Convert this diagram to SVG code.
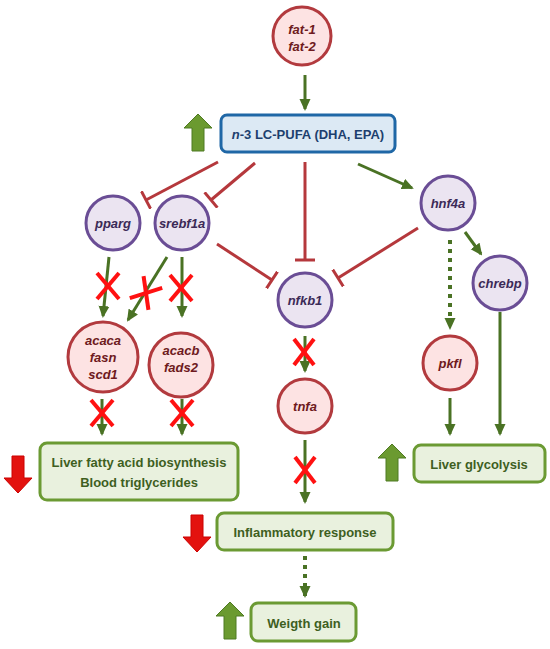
<svg xmlns="http://www.w3.org/2000/svg" width="550" height="649" viewBox="0 0 550 649">
<style>
text{font-family:"Liberation Sans",Arial,sans-serif;font-weight:bold;font-size:13px;text-anchor:middle;dominant-baseline:central}
.red circle{fill:#fde3e3;stroke:#b23a3e;stroke-width:3}
.red text{fill:#6e1a20;font-style:italic}
.pur circle{fill:#ebe4f1;stroke:#6a4d95;stroke-width:3}
.pur text{fill:#3b2a57;font-style:italic}
.box rect{fill:#e9f1de;stroke:#6b9a33;stroke-width:3}
.box text{fill:#3e5f1f}
.act{stroke:#4a7224;stroke-width:3;fill:none;marker-end:url(#ah)}
.dot{stroke:#4a7224;stroke-width:4;fill:none;stroke-dasharray:4 5;marker-end:url(#ah)}
.inh{stroke:#b5383c;stroke-width:3;fill:none;marker-end:url(#tb)}
.x line{stroke:#ff1111;stroke-width:4;stroke-linecap:butt}
.up{fill:#6b9a30;stroke:#4f7a22;stroke-width:1}
.down{fill:#e3120f;stroke:#c00;stroke-width:1}
</style>
<defs>
<marker id="ah" markerUnits="userSpaceOnUse" markerWidth="12" markerHeight="12" viewBox="0 0 12 12" refX="10" refY="6" orient="auto">
<path d="M0,0.5 L12,6 L0,11.5 Z" fill="#4a7224"/>
</marker>
<marker id="tb" markerUnits="userSpaceOnUse" markerWidth="4" markerHeight="20" viewBox="0 0 4 20" refX="2" refY="10" orient="auto">
<path d="M2,0 V20" stroke="#b5383c" stroke-width="3"/>
</marker>
<path id="upA" d="M14,0 L28,14 L20,14 L20,37 L8,37 L8,14 L0,14 Z"/>
<path id="dnA" d="M8,0 L20,0 L20,22 L28,22 L14,37 L0,22 L8,22 Z"/>
</defs>

<g id="connectors">
<line class="act" x1="305" y1="75" x2="305" y2="109"/>
<line class="act" x1="358" y1="164" x2="412" y2="188"/>
<line class="act" x1="465" y1="232" x2="481" y2="254"/>
<line class="dot" x1="450" y1="240" x2="450" y2="328"/>
<line class="act" x1="450" y1="398" x2="450" y2="434"/>
<line class="act" x1="500" y1="312" x2="500" y2="434"/>
<line class="act" x1="109" y1="257" x2="103" y2="316"/>
<line class="act" x1="167" y1="257" x2="128" y2="320"/>
<line class="act" x1="182" y1="257" x2="182" y2="316"/>
<line class="act" x1="102" y1="399" x2="102" y2="434"/>
<line class="act" x1="182" y1="399" x2="182" y2="434"/>
<line class="act" x1="305" y1="336" x2="305" y2="371"/>
<line class="act" x1="305" y1="440" x2="305" y2="502"/>
<line class="dot" x1="305" y1="556" x2="305" y2="596"/>
<line class="inh" x1="218" y1="162" x2="146" y2="200"/>
<line class="inh" x1="255" y1="163" x2="211" y2="200"/>
<line class="inh" x1="305" y1="162" x2="305" y2="260"/>
<line class="inh" x1="217" y1="244" x2="272" y2="280"/>
<line class="inh" x1="418" y1="228" x2="338" y2="278"/>
</g>

<g id="crosses" class="x">
<g transform="translate(108,286)"><line x1="-11" y1="-13" x2="11" y2="13"/><line x1="11" y1="-13" x2="-11" y2="13"/></g>
<g transform="translate(146,293) rotate(32)"><line x1="-11" y1="-13" x2="11" y2="13"/><line x1="11" y1="-13" x2="-11" y2="13"/></g>
<g transform="translate(181,288)"><line x1="-11" y1="-13" x2="11" y2="13"/><line x1="11" y1="-13" x2="-11" y2="13"/></g>
<g transform="translate(102,413)"><line x1="-11" y1="-13" x2="11" y2="13"/><line x1="11" y1="-13" x2="-11" y2="13"/></g>
<g transform="translate(182,413)"><line x1="-11" y1="-13" x2="11" y2="13"/><line x1="11" y1="-13" x2="-11" y2="13"/></g>
<g transform="translate(304,352)"><line x1="-10" y1="-13" x2="10" y2="13"/><line x1="10" y1="-13" x2="-10" y2="13"/></g>
<g transform="translate(305,470)"><line x1="-10" y1="-13" x2="10" y2="13"/><line x1="10" y1="-13" x2="-10" y2="13"/></g>
</g>

<g id="fat" class="red"><circle cx="302" cy="36" r="29"/><text x="302" y="29">fat-1</text><text x="302" y="46">fat-2</text></g>
<g id="pufa"><rect x="221" y="115" width="174" height="37" rx="6" fill="#dce9f4" stroke="#1f67a6" stroke-width="3"/><text x="308" y="134" fill="#1d3f6e"><tspan font-style="italic">n</tspan>-3 LC-PUFA (DHA, EPA)</text></g>
<g id="pparg" class="pur"><circle cx="113" cy="223" r="27"/><text x="113" y="223">pparg</text></g>
<g id="srebf1a" class="pur"><circle cx="182" cy="223" r="27"/><text x="182" y="223">srebf1a</text></g>
<g id="hnf4a" class="pur"><circle cx="448" cy="203" r="27"/><text x="448" y="203">hnf4a</text></g>
<g id="nfkb1" class="pur"><circle cx="305" cy="300" r="27"/><text x="305" y="300">nfkb1</text></g>
<g id="chrebp" class="pur"><circle cx="500" cy="283" r="27"/><text x="500" y="283">chrebp</text></g>
<g id="pkfl" class="red"><circle cx="450" cy="363" r="27"/><text x="450" y="363">pkfl</text></g>
<g id="tnfa" class="red"><circle cx="305" cy="406" r="27"/><text x="305" y="406">tnfa</text></g>
<g id="acaca" class="red"><circle cx="103" cy="357" r="35"/><text x="103" y="340">acaca</text><text x="103" y="357">fasn</text><text x="103" y="374">scd1</text></g>
<g id="acacb" class="red"><circle cx="181" cy="365" r="32"/><text x="181" y="350">acacb</text><text x="181" y="367">fads2</text></g>

<g id="liverfatty" class="box"><rect x="40" y="443" width="198" height="57" rx="7"/><text x="139" y="462">Liver fatty acid biosynthesis</text><text x="139" y="482">Blood triglycerides</text></g>
<g id="glycolysis" class="box"><rect x="414" y="445" width="131" height="37" rx="7"/><text x="479" y="464">Liver glycolysis</text></g>
<g id="inflammatory" class="box"><rect x="217" y="513" width="176" height="37" rx="7"/><text x="305" y="532">Inflammatory response</text></g>
<g id="weight" class="box"><rect x="251" y="603" width="105" height="38" rx="7"/><text x="304" y="623">Weigth gain</text></g>

<g id="indicators">
<use href="#upA" class="up" transform="translate(184,114)"/>
<use href="#upA" class="up" transform="translate(378,444)"/>
<use href="#upA" class="up" transform="translate(216,602)"/>
<use href="#dnA" class="down" transform="translate(4,456)"/>
<use href="#dnA" class="down" transform="translate(183,515)"/>
</g>
</svg>
